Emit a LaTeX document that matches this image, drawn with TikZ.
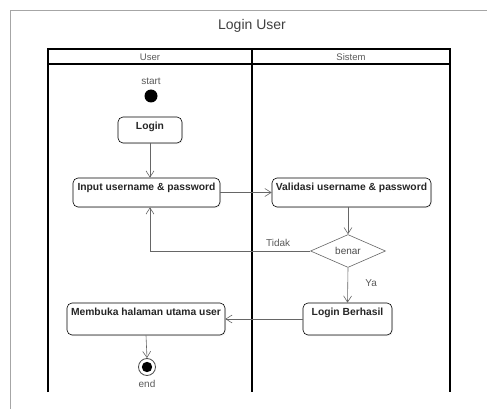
\documentclass[tikz,border=0pt]{standalone}
\usepackage{fontspec}
\setmainfont{Liberation Sans}
\usetikzlibrary{arrows.meta,positioning,shapes.geometric,shadows}

\begin{document}
\begin{tikzpicture}[x=1pt, y=-1pt, ->, >={Straight Barb[length=2.2mm,width=2.8mm]}, line width=0.6pt,
  act/.style = {draw, rounded corners=5pt, font=\bfseries\fontsize{10.3}{12}\selectfont, text=black!85,
                inner ysep=3.5pt, text height=9pt, minimum height=0pt, fill=white,
                drop shadow={opacity=0.12, shadow xshift=1pt, shadow yshift=-1.2pt}},
  lbl/.style = {font=\fontsize{10}{12}\selectfont, text=black!65},
  flow/.style = {draw=black!60}]
  \useasboundingbox (0,0) rectangle (487,409);

  % Frame and lanes
  \draw[-, black!35, line width=0.8pt] (10,409) -- (10,10) -- (487,10);
  \node[font=\fontsize{14}{16}\selectfont, text=black!75] (title) at (252,26) {Login User};
  \draw[-, line width=1.1pt] (48,392) -- (48,49) -- (450,49) -- (450,392);
  \draw[-, line width=1.1pt] (48,64) -- (450,64);
  \draw[-, line width=1.1pt] (252,49) -- (252,392);
  \node[lbl, font=\fontsize{9.5}{11}\selectfont] (lane_user) at (150,57) {User};
  \node[lbl, font=\fontsize{9.5}{11}\selectfont] (lane_sistem) at (351,57) {Sistem};

  % Nodes
  \node[circle, fill=black, minimum size=13pt, inner sep=0pt] (start) at (151,96) {};
  \node[lbl] (start_lbl) at (151,81) {start};
  \node[act, minimum width=64pt, text depth=10pt] (login) at (150,130) {Login};
  \node[act, minimum width=147pt, text depth=13pt] (input) at (146.5,192.5) {Input username \& password};
  \node[act, minimum width=159pt, text depth=13pt] (valid) at (351.5,192.5) {Validasi username \& password};
  \node[diamond, draw=black!60, fill=white, minimum width=75pt, minimum height=31pt, inner sep=0pt,
        font=\fontsize{10}{12}\selectfont, text=black!70] (benar) at (348,251) {benar};
  \node[act, minimum width=89pt, text depth=16pt] (berhasil) at (347.5,319) {Login Berhasil};
  \node[act, minimum width=158pt, text depth=16pt] (membuka) at (146,319) {Membuka halaman utama user};
  \node[circle, draw=black!70, line width=0.8pt, minimum size=17pt, inner sep=0pt] (end) at (147,367) {};
  \fill (end.center) circle (5.2pt);
  \node[lbl] (end_lbl) at (147,384) {end};

  % Paths
  \draw[flow] (login.south) -- (login.south |- input.north);
  \draw[flow] (input.east) -- (valid.west);
  \draw[flow] (benar.north |- valid.south) -- (benar.north);
  \draw[flow] (benar.west) -| ([xshift=3.5pt]input.south)
        node[lbl, pos=0.1, above=1pt] {Tidak};
  \draw[flow] (benar.south) -- (berhasil.north)
        node[lbl, pos=0.45, right=14pt] {Ya};
  \draw[flow] (berhasil.west) -- (membuka.east);
  \draw[flow] (membuka.south) -- (end.north);
\end{tikzpicture}
\end{document}
